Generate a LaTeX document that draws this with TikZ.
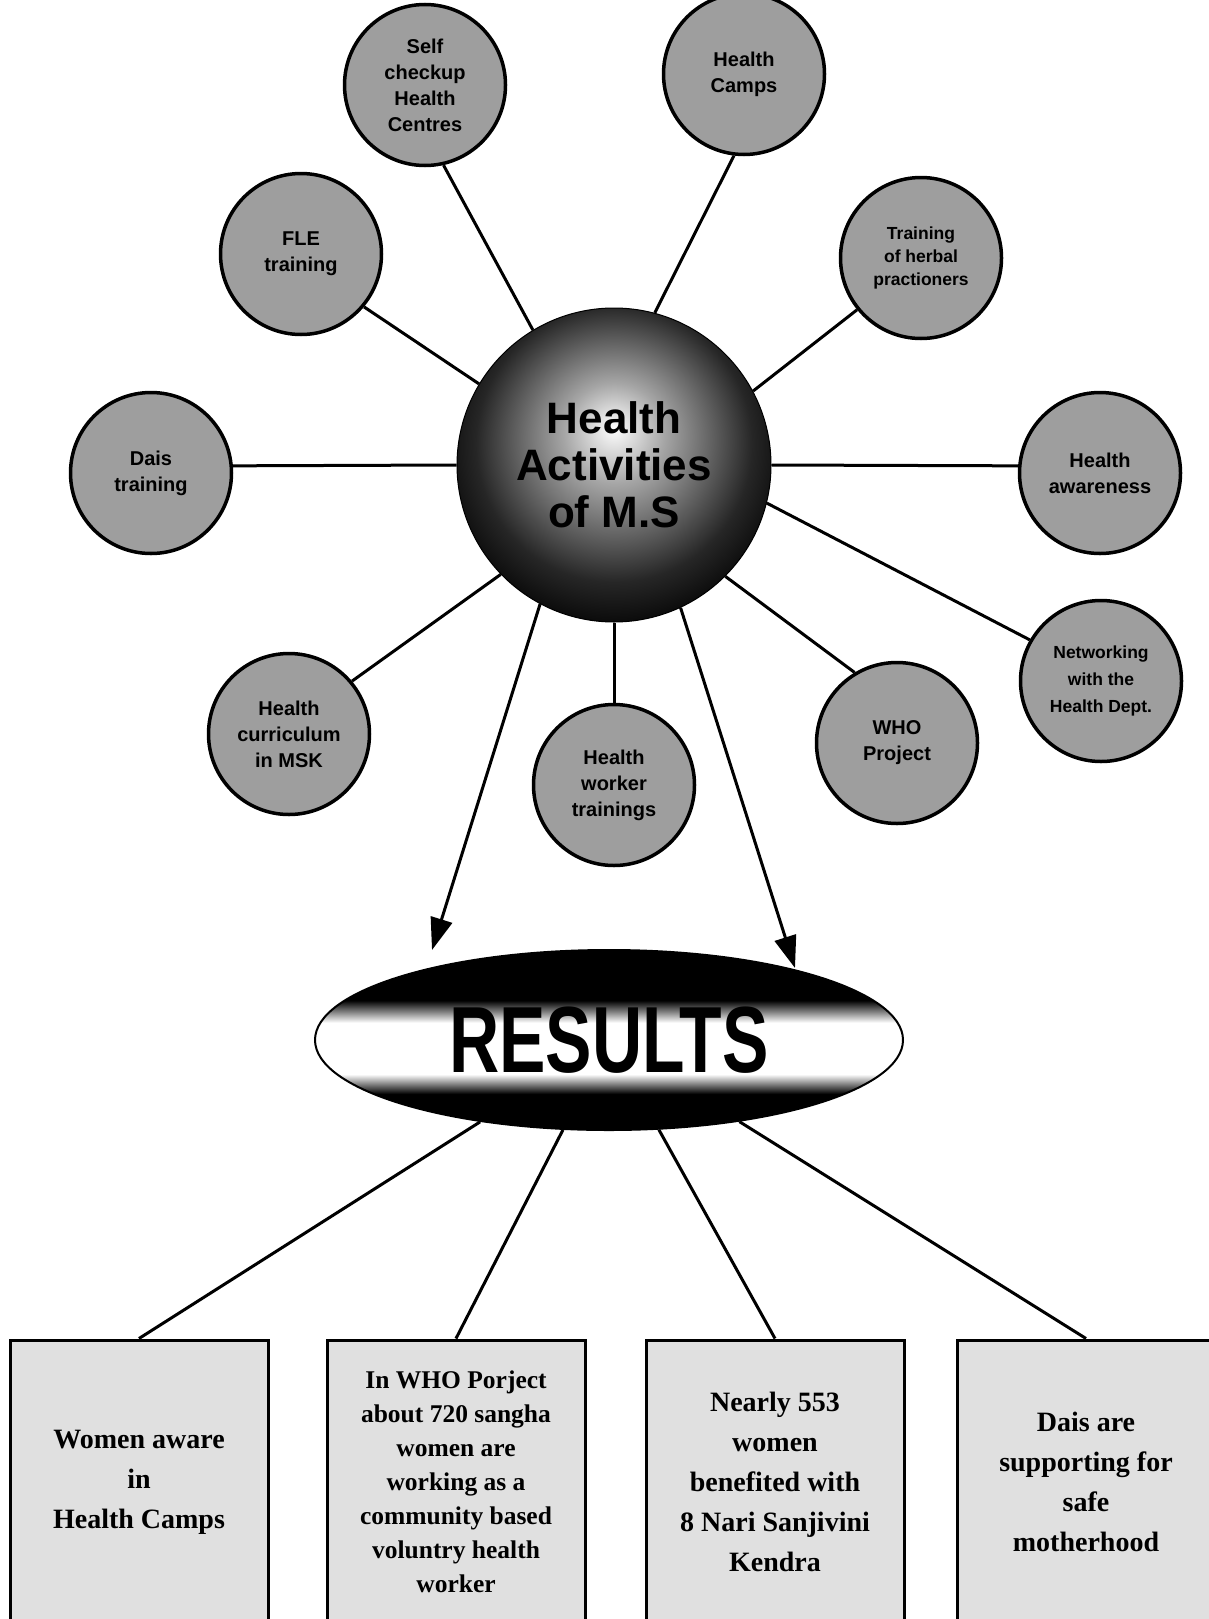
\documentclass[tikz,border=0pt]{standalone}
\usepackage{fontspec}
\usepackage{graphicx}
\setmainfont{Liberation Serif}
\setsansfont{Liberation Sans}
\usetikzlibrary{arrows.meta,shapes.geometric}

% dark sphere with a light core
\pgfdeclareradialshading{hubshade}{\pgfpoint{0bp}{6bp}}{color(0bp)=(white); color(8bp)=(black!35); color(22bp)=(black!85); color(30bp)=(black); color(50bp)=(black)}
% black rim, white band across the middle (the wide banner only shows the middle part)
\pgfdeclareverticalshading{bandshade}{100bp}{color(0bp)=(black); color(35bp)=(black); color(40.5bp)=(white); color(54.8bp)=(white); color(61bp)=(black); color(100bp)=(black)}

\begin{document}
\begin{tikzpicture}[x=1pt,y=-1pt,
  spoke/.style={draw=black, line width=3.5pt, fill=black!38, circle,
    minimum size=161pt, inner sep=0pt, align=center,
    font=\sffamily\bfseries\fontsize{20}{26}\selectfont},
  link/.style={line width=3pt},
  resbox/.style={draw, line width=3pt, fill=black!12, minimum width=258pt,
    minimum height=284pt, inner sep=0pt, align=center,
    font=\rmfamily\bfseries\fontsize{28}{40}\selectfont}]

\useasboundingbox (0,0) rectangle (1209,1619);
\clip (0,0) rectangle (1209,1619);
\fill[white] (0,0) rectangle (1209,1619);

% central activity hub
\node[circle, minimum size=314pt, inner sep=0pt, shading=hubshade, draw=black, line width=1pt,
      align=center, font=\sffamily\bfseries\fontsize{44}{47}\selectfont] (hub) at (614,465)
  {Health\\Activities\\of M.S};

% activities around the hub
\node[spoke] (self)  at (425,85)   {Self\\checkup\\Health\\Centres};
\node[spoke] (camps) at (744,74)   {Health\\Camps};
\node[spoke] (fle)   at (301,254)  {FLE\\training};
\node[spoke, font=\sffamily\bfseries\fontsize{17.5}{23}\selectfont] (herbal) at (921,258) {Training\\of herbal\\practioners};
\node[spoke] (dais)  at (151,473)  {Dais\\training};
\node[spoke] (aware) at (1100,473) {Health\\awareness};
\node[spoke, font=\sffamily\bfseries\fontsize{17.5}{27}\selectfont] (net) at (1101,681) {Networking\\with the\\Health Dept.};
\node[spoke] (who)   at (897,743)  {WHO\\Project};
\node[spoke] (worker) at (614,785) {Health\\worker\\trainings};
\node[spoke] (curr)  at (289,734)  {Health\\curriculum\\in MSK};

\draw[link] (hub.121.7) -- (self.283);
\draw[link] (hub.75.5)  -- (camps.263);
\draw[link] (hub.149.8) -- (fle.320);
\draw[link] (hub.28.8)  -- (herbal.219);
\draw[link] (hub.180)   -- (dais.5);
\draw[link] (hub.0)     -- (aware.175);
\draw[link] (hub.346)   -- (net.150);
\draw[link] (hub.315.5) -- (who.121);
\draw[link] (hub.270)   -- (worker.90);
\draw[link] (hub.224.5) -- (curr.40.5);

% results banner
\node[ellipse, minimum width=588pt, minimum height=180pt, inner sep=0pt,
      shading=bandshade, draw=black, line width=2pt] (res) at (609,1040)
  {\scalebox{0.74}[1]{\sffamily\bfseries\fontsize{94}{94}\selectfont RESULTS}};

\coordinate (tipL) at (432,950);
\coordinate (tipR) at (795,968);
\draw[link, -{Triangle[length=32pt,width=22pt]}] (hub.242) -- (tipL);
\draw[link, -{Triangle[length=32pt,width=22pt]}] (hub.295) -- (tipR);

% outcome boxes
\node[resbox] (b1) at (139,1482)  {Women aware\\in\\Health Camps};
\node[resbox, font=\rmfamily\bfseries\fontsize{25.5}{34}\selectfont] (b2) at (456,1482)
  {In WHO Porject\\about 720 sangha\\women are\\working as a\\community based\\voluntry health\\worker};
\node[resbox] (b3) at (775,1482)  {Nearly 553\\women\\benefited with\\8 Nari Sanjivini\\Kendra};
\node[resbox] (b4) at (1086,1482) {Dais are\\supporting for\\safe\\motherhood};

\draw[link] (res) -- (b1.north);
\draw[link] (res) -- (b2.north);
\draw[link] (res) -- (b3.north);
\draw[link] (res) -- (b4.north);
\end{tikzpicture}
\end{document}
